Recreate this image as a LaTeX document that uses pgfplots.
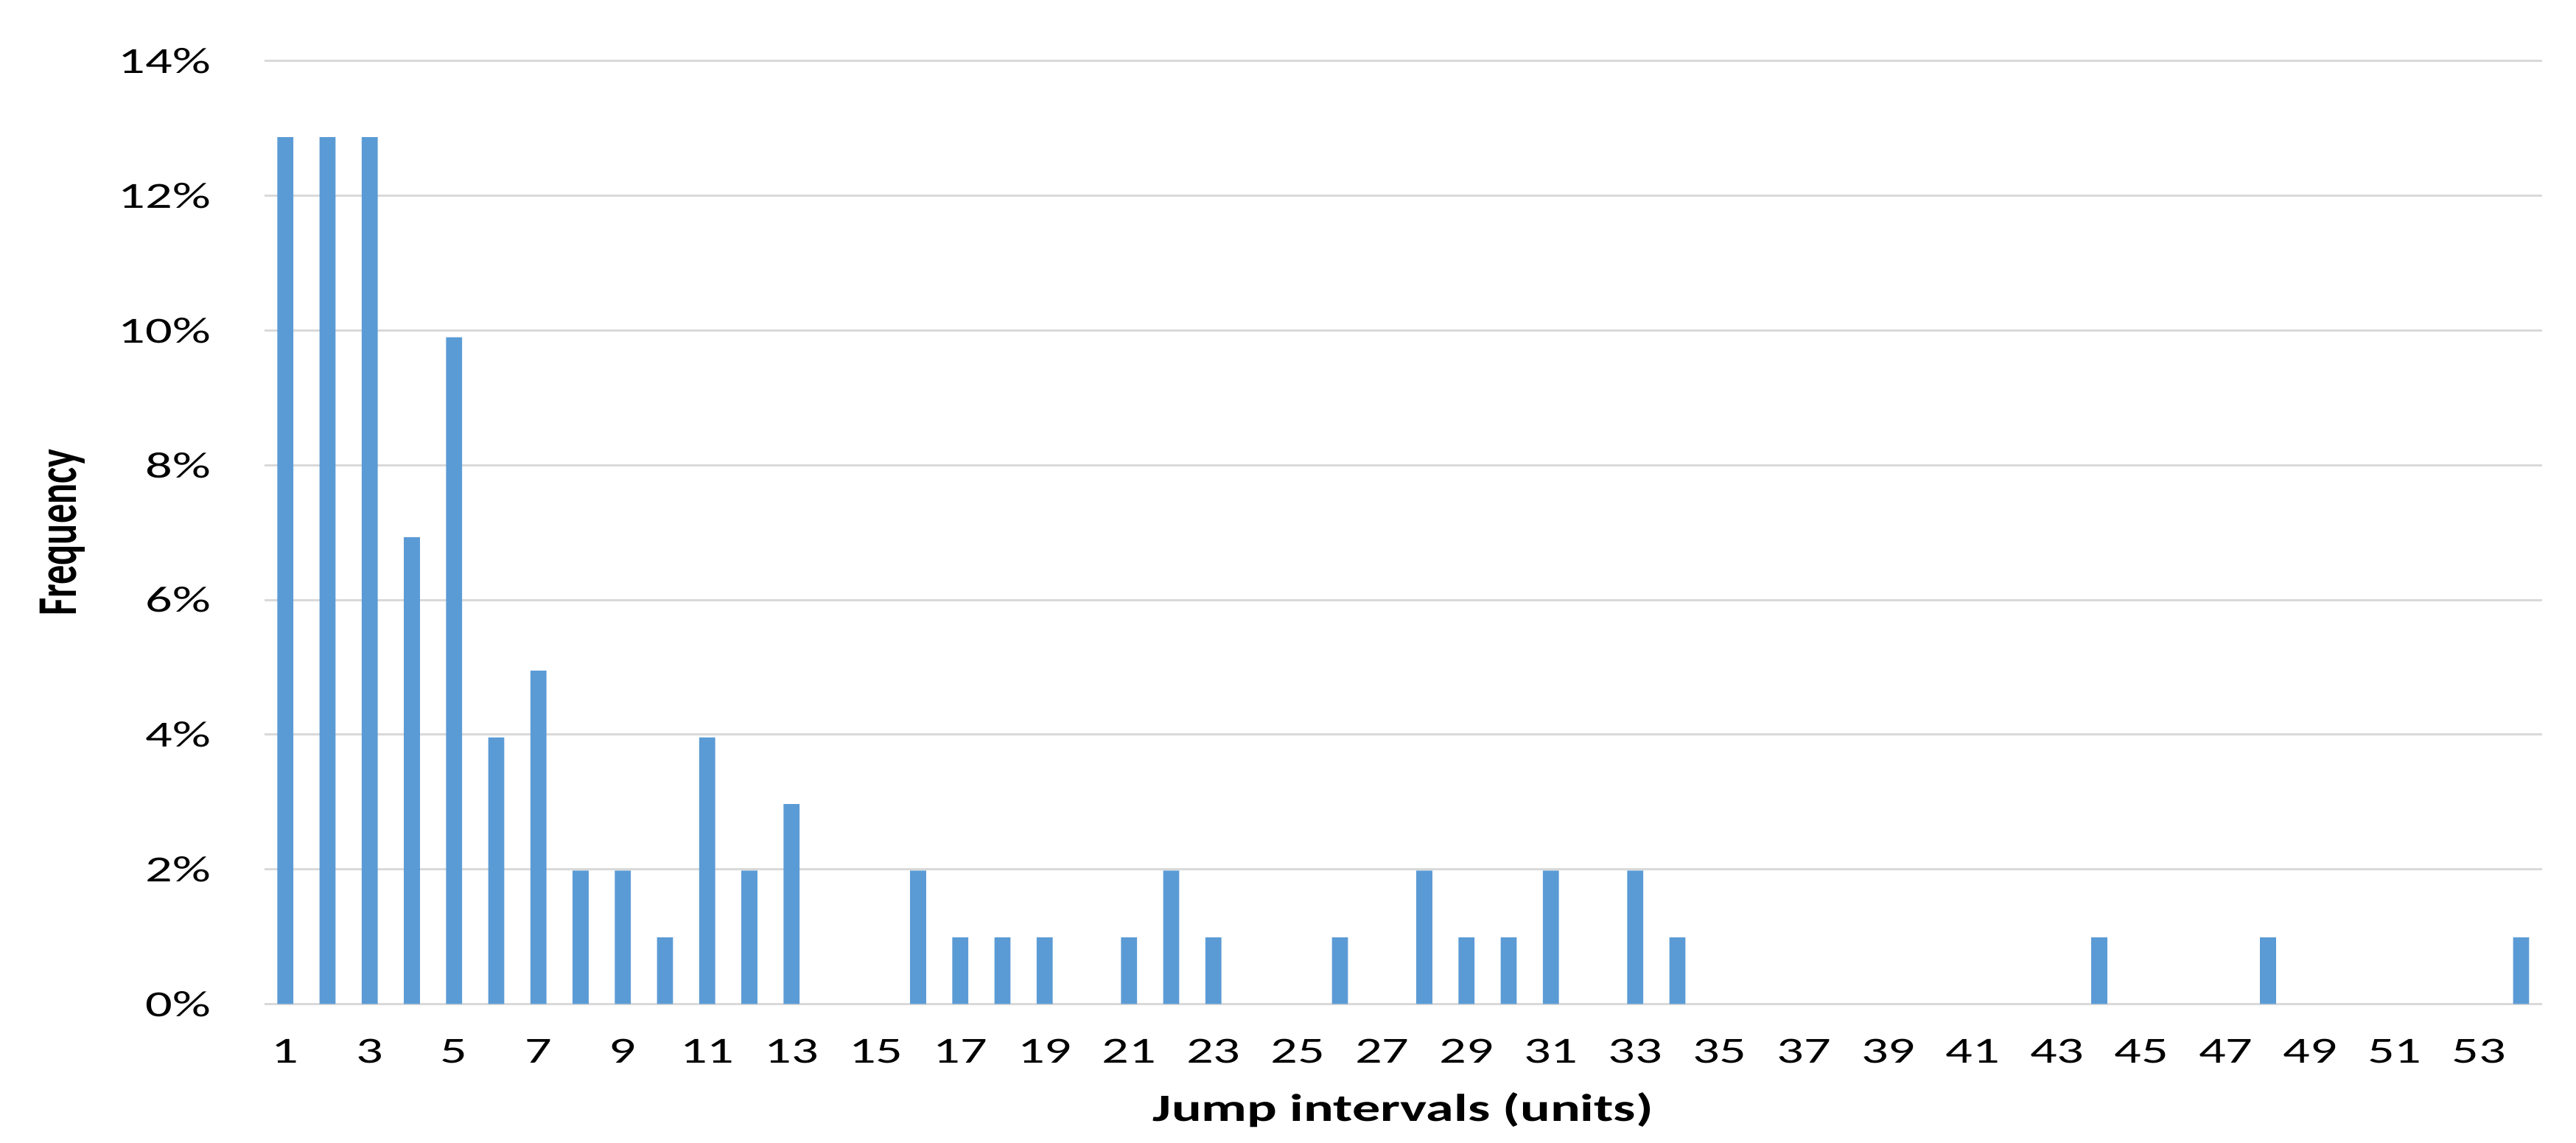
\documentclass[border=0pt]{standalone}
\usepackage{fontspec}
\setmainfont{Carlito}
\usepackage{graphicx}
\usepackage{pgfplots}
\pgfplotsset{compat=1.18}
\definecolor{barblue}{HTML}{5B9BD5}
\definecolor{gridgray}{HTML}{D9D9D9}
\newcommand{\sx}[1]{\scalebox{1.45}[1]{#1}}
\begin{document}
\begin{tikzpicture}
\begin{axis}[
  at={(71.8pt,37.6pt)}, anchor=south west,
  scale only axis, width=619pt, height=256.2pt,
  xmin=0.5, xmax=54.5, ymin=0, ymax=14,
  axis line style={draw=none},
  axis x line*=bottom, axis y line*=left,
  xtick={1,3,...,53},
  ytick={0,2,...,14},
  major tick length=0pt,
  ymajorgrids, grid style={gridgray, line width=0.6pt},
  xticklabel={\sx{\pgfmathprintnumber[int detect,assume math mode=true]{\tick}}},
  yticklabel={\sx{\pgfmathprintnumber[int detect,assume math mode=true]{\tick}\%}},
  tick label style={font=\fontsize{10}{12}\selectfont, black},
  xticklabel style={yshift=-6pt},
  yticklabel style={xshift=-11pt},
  xlabel={\sx{\textbf{Jump intervals (units)}}},
  ylabel={\scalebox{1}[1.45]{\textbf{Frequency}}},
  label style={font=\fontsize{10.5}{12}\selectfont},
  xlabel style={at={(axis description cs:0.5,0)}, anchor=center, yshift=-28.7pt},
  ylabel style={at={(axis description cs:0,0.5)}, anchor=center, yshift=54.8pt},
  clip=false,
]
\draw[gridgray, line width=0.6pt] (axis cs:0.5,0) -- (axis cs:54.5,0);
\addplot[ybar, bar width=0.38, fill=barblue, draw=none] coordinates {
(1,12.871) (2,12.871) (3,12.871) (4,6.931) (5,9.901) (6,3.960) (7,4.950)
(8,1.980) (9,1.980) (10,0.990) (11,3.960) (12,1.980) (13,2.970)
(16,1.980) (17,0.990) (18,0.990) (19,0.990) (21,0.990) (22,1.980) (23,0.990)
(26,0.990) (28,1.980) (29,0.990) (30,0.990) (31,1.980) (33,1.980) (34,0.990)
(44,0.990) (48,0.990) (54,0.990)
};
\end{axis}
\pgfresetboundingbox
\useasboundingbox (0,0) rectangle (700pt,310.4pt);
\end{tikzpicture}
\end{document}
